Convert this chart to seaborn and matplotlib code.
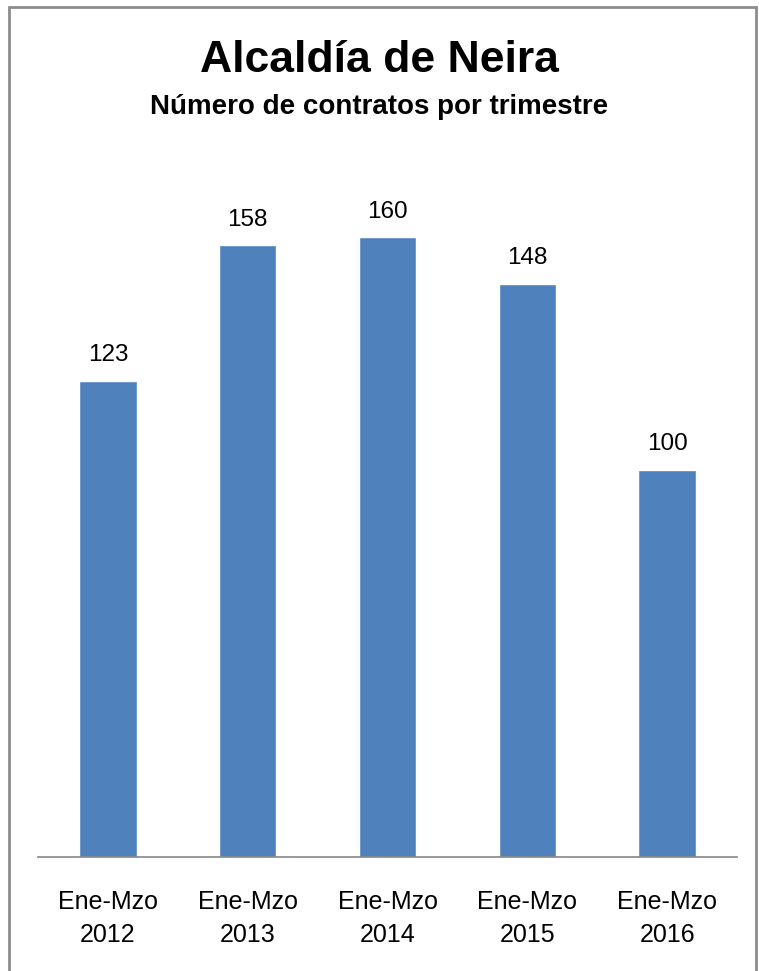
import matplotlib
matplotlib.use('Agg')
import matplotlib.pyplot as plt
import seaborn as sns
import pandas as pd
from matplotlib.patches import Rectangle

# Data
periods = ['Ene-Mzo\n2012', 'Ene-Mzo\n2013', 'Ene-Mzo\n2014', 'Ene-Mzo\n2015', 'Ene-Mzo\n2016']
contracts = [123, 158, 160, 148, 100]

df = pd.DataFrame({'Periodo': periods, 'Contratos': contracts})

sns.set_theme(style="white")
plt.rcParams['font.family'] = ['Liberation Sans', 'DejaVu Sans']

W, H = 759, 971
fig = plt.figure(figsize=(W / 100, H / 100), dpi=100)
ax = fig.add_axes([38 / W, 1 - 857 / H, 699 / W, 697 / H])

sns.barplot(data=df, x='Periodo', y='Contratos', color='#4F81BD',
            saturation=1, width=0.41, ax=ax)

ax.set_xlim(-0.5, 4.5)
ax.set_ylim(0, 180)
ax.set_xlabel('')
ax.set_ylabel('')
ax.set_yticks([])
for s in ['top', 'right', 'left']:
    ax.spines[s].set_visible(False)
ax.spines['bottom'].set_color('#868686')
ax.spines['bottom'].set_linewidth(1.2)
ax.tick_params(axis='x', length=0, pad=24, labelsize=18, colors='black')
for lbl in ax.get_xticklabels():
    lbl.set_linespacing(1.45)

# value labels
for i, v in enumerate(contracts):
    ax.annotate(str(v), (i, v), xytext=(0, 10.5), textcoords='offset points',
                ha='center', va='bottom', fontsize=17.5, color='black')

# titles
fig.text(0.5, 1 - 60 / H, 'Alcaldía de Neira', ha='center', va='center',
         fontsize=32, fontweight='bold', color='black')
fig.text(0.5, 1 - 107 / H, 'Número de contratos por trimestre', ha='center', va='center',
         fontsize=20, fontweight='bold', color='black')

# chart border
fig.patches.append(Rectangle((9 / W, -0.05), 747 / W, 1.05 - 7 / H,
                             transform=fig.transFigure, fill=False,
                             edgecolor='#8C8C8C', linewidth=2))

fig.savefig('out.png', dpi=100, facecolor='white')
